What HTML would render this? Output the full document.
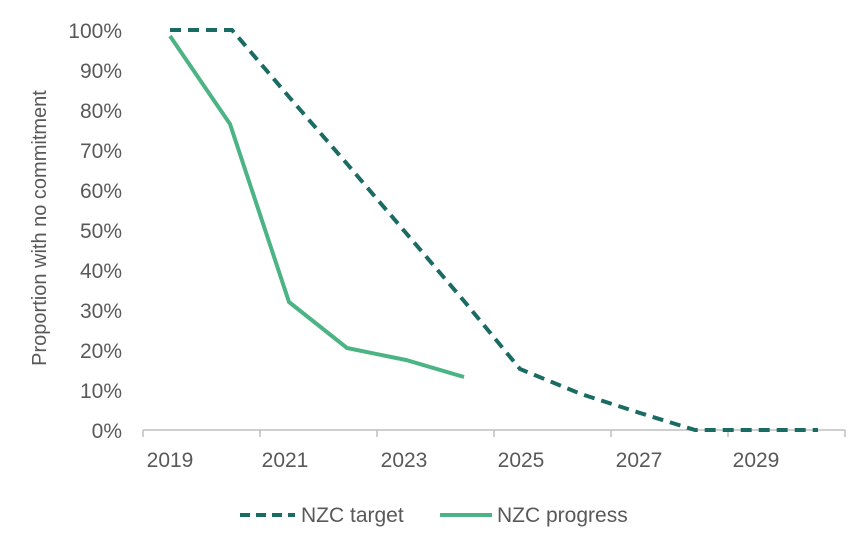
<!DOCTYPE html>
<html><head><style>html,body{margin:0;padding:0;background:#fff;}</style></head>
<body>
<svg width="856" height="539" xmlns="http://www.w3.org/2000/svg" font-family="Liberation Sans, sans-serif" fill="#595959">
<g font-size="21" text-anchor="end">
<text x="122" y="38">100%</text>
<text x="122" y="78">90%</text>
<text x="122" y="118">80%</text>
<text x="122" y="158">70%</text>
<text x="122" y="198">60%</text>
<text x="122" y="238">50%</text>
<text x="122" y="278">40%</text>
<text x="122" y="318">30%</text>
<text x="122" y="358">20%</text>
<text x="122" y="398">10%</text>
<text x="122" y="438">0%</text>
</g>
<text transform="translate(46,228) rotate(-90)" font-size="20" text-anchor="middle">Proportion with no commitment</text>
<line x1="143" y1="430" x2="845" y2="430" stroke="#bfbfbf" stroke-width="1.5"/>
<g stroke="#bfbfbf" stroke-width="1.5">
<line x1="143" y1="430" x2="143" y2="437"/><line x1="260" y1="430" x2="260" y2="437"/>
<line x1="377" y1="430" x2="377" y2="437"/><line x1="494" y1="430" x2="494" y2="437"/>
<line x1="611" y1="430" x2="611" y2="437"/><line x1="728" y1="430" x2="728" y2="437"/>
<line x1="845" y1="430" x2="845" y2="437"/></g>
<g font-size="21" text-anchor="middle">
<text x="170" y="467">2019</text><text x="285" y="467">2021</text><text x="404" y="467">2023</text>
<text x="521" y="467">2025</text><text x="639" y="467">2027</text><text x="756" y="467">2029</text>
</g>
<polyline fill="none" stroke="#1a6b63" stroke-width="4" stroke-dasharray="11,7" points="170,30 232,30 290,98 348,165 406,233 464,301 520,369 581,394 640,413 695,430 757,430 818,430"/>
<polyline fill="none" stroke="#4cb484" stroke-width="4" points="170,36 230,124 289,302 347,348 406,360 464,377"/>
<line x1="240" y1="515" x2="295" y2="515" stroke="#1a6b63" stroke-width="4" stroke-dasharray="10,6"/>
<text x="301" y="522" font-size="21">NZC target</text>
<line x1="440" y1="515" x2="492" y2="515" stroke="#4cb484" stroke-width="4"/>
<text x="497" y="522" font-size="21">NZC progress</text>
</svg>
</body></html>
